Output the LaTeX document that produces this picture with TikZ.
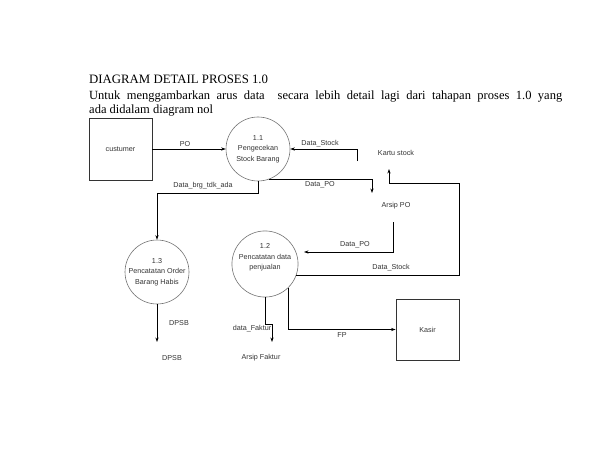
\documentclass[tikz,border=0pt]{standalone}
\usepackage{fontspec}
\setmainfont{Liberation Serif}
\newfontfamily\dfdfont{Liberation Sans}
\usetikzlibrary{arrows.meta}

\begin{document}
\begin{tikzpicture}[x=1pt,y=-1pt,
    proc/.style={circle,draw=black!55,line width=0.6pt,minimum size=64pt,inner sep=0pt,
      align=center,font=\dfdfont\fontsize{7.2}{10.5}\selectfont,text=black!80},
    ent/.style={rectangle,draw=black!80,line width=0.9pt,inner sep=0pt,
      font=\dfdfont\fontsize{7.2}{10}\selectfont,text=black!80},
    lbl/.style={inner sep=0pt,font=\dfdfont\fontsize{7.2}{10}\selectfont,text=black!80},
    flow/.style={draw=black,line width=0.8pt,-{Stealth[length=4.5pt,width=3.2pt]}}]
  \useasboundingbox (0,0) rectangle (613,468);
  % heading
  \node[anchor=base west,inner sep=0pt,font=\fontsize{12.8}{14}\selectfont] (judul) at (89,84)
    {DIAGRAM DETAIL PROSES 1.0};
  \node[anchor=base west,inner sep=0pt,font=\fontsize{12.5}{14}\selectfont] (isi1) at (89,99.5)
    {\makebox[473pt][s]{Untuk menggambarkan arus data\ \ secara lebih detail lagi dari tahapan proses 1.0 yang}};
  \node[anchor=base west,inner sep=0pt,font=\fontsize{12.5}{14}\selectfont] (isi2) at (89,113.5)
    {ada didalam diagram nol};
  % entitas dan proses
  \node[ent,minimum width=63pt,minimum height=62pt] (custumer) at (120.5,149.5) {custumer};
  \node[ent,minimum width=63pt,minimum height=61pt] (kasir) at (427.5,329.5) {Kasir};
  \node[proc] (p11) at (258,149) {1.1\\Pengecekan\\Stock Barang};
  \node[proc] (p12) at (265,264) {1.2\\Pencatatan data\\penjualan\\[4pt]};
  \node[proc] (p13) at (157,272) {1.3\\Pencatatan Order\\Barang Habis};
  % data store
  \node[lbl] (kartu) at (396,153) {Kartu stock};
  \node[lbl] (arsippo) at (396,206) {Arsip PO};
  \node[lbl] (dpsb) at (172,358) {DPSB};
  \node[lbl] (arsipfaktur) at (261,358) {Arsip Faktur};
  % titik belok
  \coordinate (ks_out) at (357,161);
  \coordinate (ks_in) at (389,169);
  \coordinate (ks_turn) at (459,183);
  \coordinate (apo_in) at (372,193);
  \coordinate (apo_out) at (393,222);
  \coordinate (p12_in) at (304,252);
  \coordinate (dpsb_in) at (157,342);
  \coordinate (af_in) at (272,342);
  % arus data
  \draw[flow] (custumer.east |- p11.west) -- (p11.west);
  \draw[flow] (ks_out) |- (p11.east);
  \draw[flow] (p11.-70) -| (apo_in);
  \draw[flow] (p11.south) -- ++(0,12) -| (p13.north);
  \draw[flow] (apo_out) |- (p12_in);
  \draw[flow] (p12.-20) -| (ks_turn) -| (ks_in);
  \draw[flow] (p13.south) -- (dpsb_in);
  \draw[flow] (p12.south) -- ++(0,27) -| (af_in);
  \draw[flow] (p12.-46) |- (kasir.west);
  % label
  \node[lbl] (l_po) at (185,144) {PO};
  \node[lbl] (l_stock1) at (320,144) {Data\_Stock};
  \node[lbl] (l_brg) at (203,186) {Data\_brg\_tdk\_ada};
  \node[lbl] (l_po1) at (320,185) {Data\_PO};
  \node[lbl] (l_po2) at (355,245) {Data\_PO};
  \node[lbl] (l_stock2) at (391,268) {Data\_Stock};
  \node[lbl] (l_dpsb) at (179,323) {DPSB};
  \node[lbl] (l_faktur) at (252,329) {data\_Faktur};
  \node[lbl] (l_fp) at (342,335) {FP};
\end{tikzpicture}
\end{document}
